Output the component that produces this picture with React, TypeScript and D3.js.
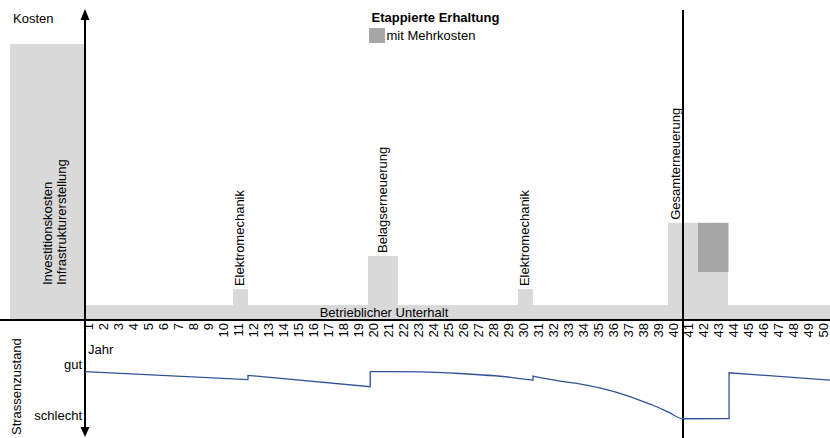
import * as d3 from "d3";

const W = 830;
const H = 438;

// Jahre 1..50
const years = Array.from({ length: 50 }, (_, i) => i + 1);

// Kosten (relative Einheiten, Investition = 100)
const investition = 100;
const betrieb = 5.4;
const massnahmenLabels = ["Elektromechanik", "Belagserneuerung", "Elektromechanik", "Gesamterneuerung"];
const massnahmenVon = [11, 20, 30, 40];
const massnahmenBis = [11, 21, 30, 43];
const massnahmenKosten = [11.2, 23.2, 11.2, 35.2];
const mehrkostenJahre = [42, 43];
const mehrkostenVon = 17.4;
const mehrkostenBis = 35.2;

// Strassenzustand (0 = schlecht, 100 = gut), t = Jahr auf der Zeitachse
const zustandT = [0.13, 11, 11, 19.15, 19.15, 20.5, 22.5, 25.1, 28.5, 30, 30, 31.8, 33.1, 35.8, 37, 38, 39, 40, 43.07, 43.07, 50];
const zustandWert = [100, 83, 92, 68, 100, 100, 99.5, 96, 88, 82, 90.5, 80, 74, 54, 41, 29, 15, 0.5, 1, 97.5, 81.5];

const FONT = "'Liberation Sans', Arial, sans-serif";
const LIGHT = "#d9d9d9";
const DARK = "#a6a6a6";

export default function App() {
  const axisX = 85;
  const axisY = 320;
  const splitX = 683;

  const x = d3.scaleBand<number>().domain(years).range([83, 833]).paddingInner(0);
  const bw = x.bandwidth();
  const xt = d3.scaleLinear().domain([0, 50]).range([83, 833]);
  const yk = d3.scaleLinear().domain([0, 100]).range([axisY, 44]);
  const yz = d3.scaleLinear().domain([0, 100]).range([419, 371.6]);

  // Kurve in Abschnitte zwischen den Sprüngen teilen, jeden Abschnitt glätten
  const pts: [number, number][] = zustandT.map((t, i) => [xt(t), yz(zustandWert[i])]);
  const segs: [number, number][][] = [[pts[0]]];
  for (let i = 1; i < pts.length; i++) {
    if (zustandT[i] === zustandT[i - 1]) segs.push([pts[i]]);
    else segs[segs.length - 1].push(pts[i]);
  }
  const seg = d3.line().curve(d3.curveMonotoneX);
  const curvePath = segs
    .map((s, i) => {
      const d = seg(s) ?? "";
      return i === 0 ? d : d.replace(/^M/, "L");
    })
    .join("");

  return (
    <svg width={W} height={H} style={{ position: "absolute", left: 0, top: 0, display: "block" }} fontFamily={FONT} fontSize={13}>
      <rect width={W} height={H} fill="#fff" />

      {/* Investitionskosten */}
      <rect x={10} y={yk(investition)} width={axisX - 1 - 10} height={yk(0) - yk(investition)} fill={LIGHT} />
      <g transform={`translate(0,${yk(0) - 35})`}>
        <text transform={`translate(52,0) rotate(-90)`} textAnchor="start">Investitionskosten</text>
        <text transform={`translate(66,0) rotate(-90)`} textAnchor="start">Infrastrukturerstellung</text>
      </g>

      {/* Betrieblicher Unterhalt */}
      <rect x={x(1)!} y={yk(betrieb)} width={x(50)! + bw - x(1)!} height={yk(0) - yk(betrieb)} fill={LIGHT} />

      {/* Massnahmen */}
      {massnahmenLabels.map((lab, i) => {
        const x0 = x(massnahmenVon[i])!;
        const x1 = x(massnahmenBis[i])! + bw;
        const top = yk(massnahmenKosten[i]);
        const lx = i === 3 ? x0 + bw / 2 : (x0 + x1) / 2 - 1;
        return (
          <g key={i}>
            <rect x={x0} y={top} width={x1 - x0} height={yk(0) - top} fill={LIGHT} />
            <text transform={`translate(${lx},${top - 3}) rotate(-90)`} dy="0.35em" textAnchor="start">{lab}</text>
          </g>
        );
      })}
      {mehrkostenJahre.map((j) => (
        <rect key={j} x={x(j)!} y={yk(mehrkostenBis)} width={bw + 0.5} height={yk(mehrkostenVon) - yk(mehrkostenBis)} fill={DARK} />
      ))}
      <text x={(axisX + splitX) / 2} y={yk(0) - 3} textAnchor="middle">Betrieblicher Unterhalt</text>

      {/* Achsen */}
      <line x1={0} x2={W} y1={axisY} y2={axisY} stroke="#000" strokeWidth={2} />
      <line x1={axisX} x2={axisX} y1={14} y2={432} stroke="#000" strokeWidth={2} />
      <path d={`M${axisX},9 L${axisX + 4.5},20 L${axisX - 4.5},20 Z`} fill="#000" />
      <path d={`M${axisX},437 L${axisX + 4.5},427 L${axisX - 4.5},427 Z`} fill="#000" />
      <line x1={splitX} x2={splitX} y1={10} y2={H} stroke="#000" strokeWidth={2} />

      {/* Jahre */}
      {years.map((j) => (
        <text key={j} transform={`translate(${x(j)! + bw / 2},323) rotate(-90)`} dy="0.22em" textAnchor="end">{j}</text>
      ))}

      {/* Beschriftungen */}
      <text x={13} y={23}>Kosten</text>
      <text x={371.5} y={22} fontWeight="bold">Etappierte Erhaltung</text>
      <rect x={369} y={28} width={16} height={15} fill={DARK} />
      <text x={386.5} y={40}>mit Mehrkosten</text>
      <text x={88} y={354}>Jahr</text>
      <text x={82} y={368.5} textAnchor="end">gut</text>
      <text x={82} y={420} textAnchor="end">schlecht</text>
      <text transform="translate(21,435) rotate(-90)" textAnchor="start">Strassenzustand</text>

      {/* Zustandskurve */}
      <path d={curvePath} fill="none" stroke="#2f5496" strokeWidth={1.3} />
    </svg>
  );
}
